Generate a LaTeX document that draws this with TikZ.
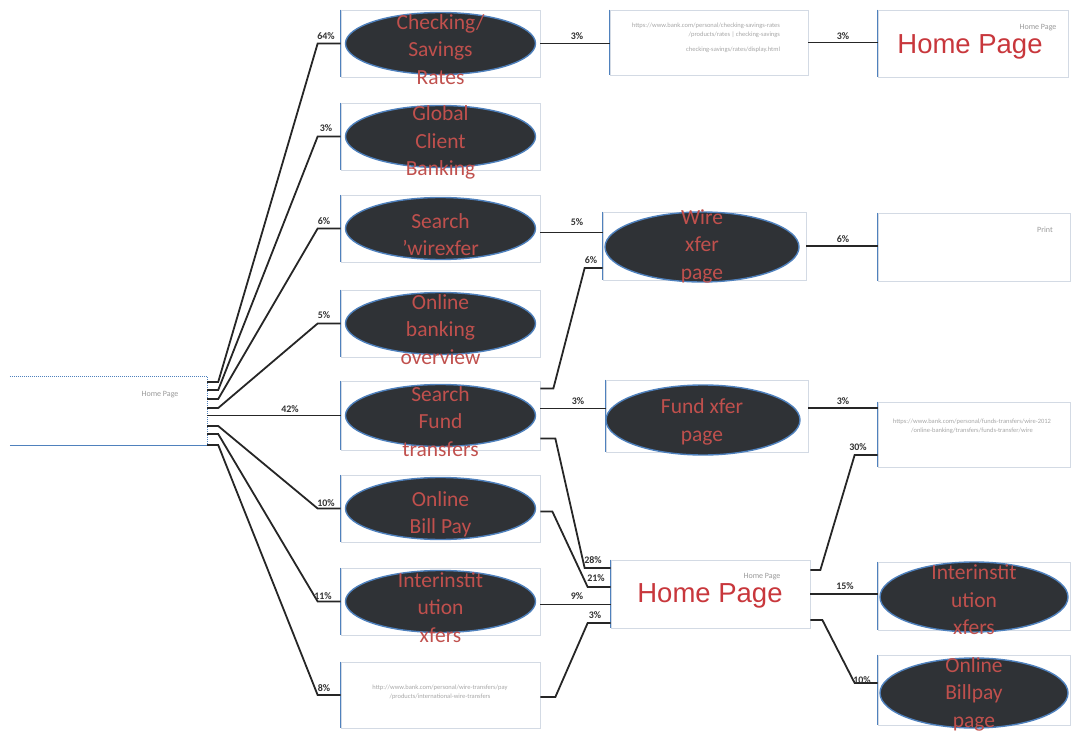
\documentclass[tikz,border=0pt]{standalone}
\usepackage{fontspec}
\setmainfont{Carlito}
\newfontfamily\arialf{Liberation Sans}
\usetikzlibrary{shapes.geometric,calc}
\definecolor{ellfill}{HTML}{2F3236}
\definecolor{ellline}{HTML}{4F81BD}
\definecolor{elltext}{HTML}{C0504D}
\definecolor{hpred}{HTML}{C8373C}
\definecolor{boxgray}{HTML}{D3DAE4}
\begin{document}
\begin{tikzpicture}[x=1pt,y=-1pt,
  box/.style={rectangle, draw=boxgray, line width=0.7pt, inner sep=0pt},
  ledge/.style={draw=ellline, line width=1pt},
  ell/.style={ellipse, fill=ellfill, draw=ellline, line width=1.4pt, inner sep=0pt, minimum width=190pt, minimum height=62pt},
  etext/.style={text=elltext, font=\fontsize{21.5}{27.5}\selectfont, align=center, inner sep=0pt},
  conn/.style={draw=black!85, line width=1.8pt},
  pct/.style={font=\fontsize{10}{10}\selectfont\bfseries, text=black!80, inner sep=1pt},
  gtext/.style={font=\fontsize{8}{8}\selectfont, text=black!40, inner sep=0pt},
  utext/.style={font=\fontsize{6.5}{9}\selectfont, text=black!35, inner sep=0pt, align=center},
  bigred/.style={font=\arialf\fontsize{27.5}{27.5}\selectfont, text=hpred, inner sep=0pt}
]
\useasboundingbox (0,0) rectangle (1072,735);

% root box
\node[rectangle, inner sep=0pt, minimum width=197pt, minimum height=68pt] (root) at (108.5,411) {};
\draw[ellline, densely dotted, line width=1pt] (root.north west) -- (root.north east) -- (root.south east);
\draw[ellline, line width=1.1pt] (root.south west) -- (root.south east);
\node[gtext] (rt) at (160,395) {Home Page};

% left column boxes
\foreach \n/\y/\h in {b1/43.5/67, b2/136.5/67, b3/228.5/67, b4/323.5/67, b5/415.5/69, b6/508.5/67, b7/601.5/67, b8/695/66}{
  \node[box, minimum width=199pt, minimum height=\h pt] (\n) at (440.5,\y) {};
  \draw[ledge] (\n.north west) -- (\n.south west);
}
% middle boxes
\node[box, minimum width=198pt, minimum height=65pt] (m1) at (709,42.5) {};
\node[box, minimum width=203pt, minimum height=68pt] (mw) at (704.5,246) {};
\node[box, minimum width=202pt, minimum height=72pt] (mf) at (707,416) {};
\node[box, minimum width=199pt, minimum height=68pt] (mh) at (710.5,594) {};
% right boxes
\node[box, minimum width=190pt, minimum height=67pt] (h1) at (973,43.5) {};
\node[box, minimum width=192pt, minimum height=68pt] (p1) at (974,247) {};
\node[box, minimum width=192pt, minimum height=65pt] (u1) at (974,434.5) {};
\node[box, minimum width=192pt, minimum height=68pt] (ri) at (974,596) {};
\node[box, minimum width=192pt, minimum height=70pt] (rb) at (974,690) {};
\foreach \n in {m1,mw,mf,mh,h1,p1,u1,ri,rb}{
  \draw[ledge] (\n.north west) -- (\n.south west);
}

% ellipses
\foreach \n/\t in {b1/{Checking/\\Savings\\Rates}, b2/{Global\\Client\\Banking}, b3/{Search\\'wirexfer}, b4/{Online\\banking\\overview}, b5/{Search\\Fund\\transfers}, b6/{Online\\Bill Pay}, b7/{Interinstit\\ution\\xfers}}{
  \node[ell] (e\n) at (\n) {};
  \node[etext] (t\n) at ([yshift=-6]e\n.center) {\t};
}
\node[ell, minimum width=194pt, minimum height=70pt] (ew) at (702,247) {};
\node[etext] (tw) at (702,246) {Wire\\xfer\\page};
\node[ell, minimum width=194pt, minimum height=70pt] (ef) at (703,420) {};
\node[etext] (tf) at (702,422) {Fund xfer\\page};
\node[ell, minimum width=188pt, minimum height=70pt] (eri) at (974,597) {};
\node[etext] (tri) at (974,600) {Interinstit\\ution\\xfers};
\node[ell, minimum width=188pt, minimum height=70pt] (erb) at (974,693) {};
\node[etext] (trb) at (974,694) {Online\\Billpay\\page};

% texts in plain boxes
\node[utext, align=right] (tm1) at (706,38) {https://www.bank.com/personal/checking-savings-rates\\/products/rates | checking-savings\\[6pt]\hspace*{4em}checking-savings/rates/display.html};
\node[utext] (tb8) at (440,692) {http://www.bank.com/personal/wire-transfers/pay\\/products/international-wire-transfers};
\node[utext] (tu1) at (972,426) {https://www.bank.com/personal/funds-transfers/wire-2012\\/online-banking/transfers/funds-transfer/wire};
\node[gtext] (th1) at (1038,28) {Home Page};
\node[bigred] (bh1) at (970,47) {Home Page};
\node[gtext] (tp1) at (1045,230) {Print};
\node[gtext] (tmh) at (762,577) {Home Page};
\node[bigred] (bmh) at (710,596) {Home Page};

% left fan connectors
\draw[conn] ([yshift=29]root.east) -- ++(11,0) -- ([xshift=-23]b1.west) -- (b1.west);
\draw[conn] ([yshift=21]root.east) -- ++(11,0) -- ([xshift=-23]b2.west) -- (b2.west);
\draw[conn] ([yshift=12]root.east) -- ++(11,0) -- ([xshift=-23]b3.west) -- (b3.west);
\draw[conn] ([yshift=3]root.east) -- ++(11,0) -- ([xshift=-23]b4.west) -- (b4.west);
\draw[conn] (b5.west -| root.east) -- (b5.west);
\draw[conn] ([yshift=-15]root.east) -- ++(11,0) -- ([xshift=-23]b6.west) -- (b6.west);
\draw[conn] ([yshift=-23]root.east) -- ++(11,0) -- ([xshift=-23]b7.west) -- (b7.west);
\draw[conn] ([yshift=-34]root.east) -- ++(11,0) -- ([xshift=-23]b8.west) -- (b8.west);

% middle / right connectors
\draw[conn] (b1.east) -- (b1.east -| m1.west);
\draw[conn] (m1.east) -- (m1.east -| h1.west);
\draw[conn] ([yshift=-4]b3.east) -- ([yshift=-4]b3.east -| mw.west);
\draw[conn] (mw.east) -- (mw.east -| p1.west);
\draw[conn] ([yshift=27]b5.east) -- ++(13,0) -- ([xshift=-18,yshift=-22]mw.west) -- ([yshift=-22]mw.west);
\draw[conn] ([yshift=7]b5.east) -- ([yshift=7]b5.east -| mf.west);
\draw[conn] ([yshift=8]mf.east) -- ([yshift=8]mf.east -| u1.west);
\draw[conn] ([yshift=-23]b5.east) -- ++(15,0) -- ([xshift=-26,yshift=26]mh.west) -- ([yshift=26]mh.west);
\draw[conn] ([yshift=-3]b6.east) -- ++(12,0) -- ([xshift=-23,yshift=7]mh.west) -- ([yshift=7]mh.west);
\draw[conn] ([yshift=-3]b7.east) -- ([yshift=-3]b7.east -| mh.west);
\draw[conn] ([yshift=-2]b8.east) -- ++(15,0) -- ([xshift=-23,yshift=-29]mh.west) -- ([yshift=-29]mh.west);
\draw[conn] ([yshift=24]mh.east) -- ++(10,0) -- ([xshift=-23,yshift=-20.5]u1.west) -- ([yshift=-20.5]u1.west);
\draw[conn] (mh.east) -- (mh.east -| ri.west);
\draw[conn] ([yshift=-26]mh.east) -- ++(12,0) -- ([xshift=-23,yshift=7]rb.west) -- ([yshift=7]rb.west);

% percentage labels
\node[pct] (l1) at (326,36) {64\%};
\node[pct] (l2) at (326,128) {3\%};
\node[pct] (l3) at (324,221) {6\%};
\node[pct] (l4) at (324,315) {5\%};
\node[pct] (l5) at (290,409) {42\%};
\node[pct] (l6) at (326,503) {10\%};
\node[pct] (l7) at (323,596) {11\%};
\node[pct] (l8) at (324,688) {8\%};
\node[pct] (l9) at (577,36) {3\%};
\node[pct] (l10) at (843,36) {3\%};
\node[pct] (l11) at (577,222) {5\%};
\node[pct] (l12) at (843,239) {6\%};
\node[pct] (l13) at (591,260) {6\%};
\node[pct] (l14) at (578,401) {3\%};
\node[pct] (l15) at (843,401) {3\%};
\node[pct] (l16) at (593,560) {28\%};
\node[pct] (l17) at (596,578) {21\%};
\node[pct] (l18) at (577,596) {9\%};
\node[pct] (l19) at (595,615) {3\%};
\node[pct] (l20) at (858,447) {30\%};
\node[pct] (l21) at (845,586) {15\%};
\node[pct] (l22) at (862,680) {10\%};
\end{tikzpicture}
\end{document}
